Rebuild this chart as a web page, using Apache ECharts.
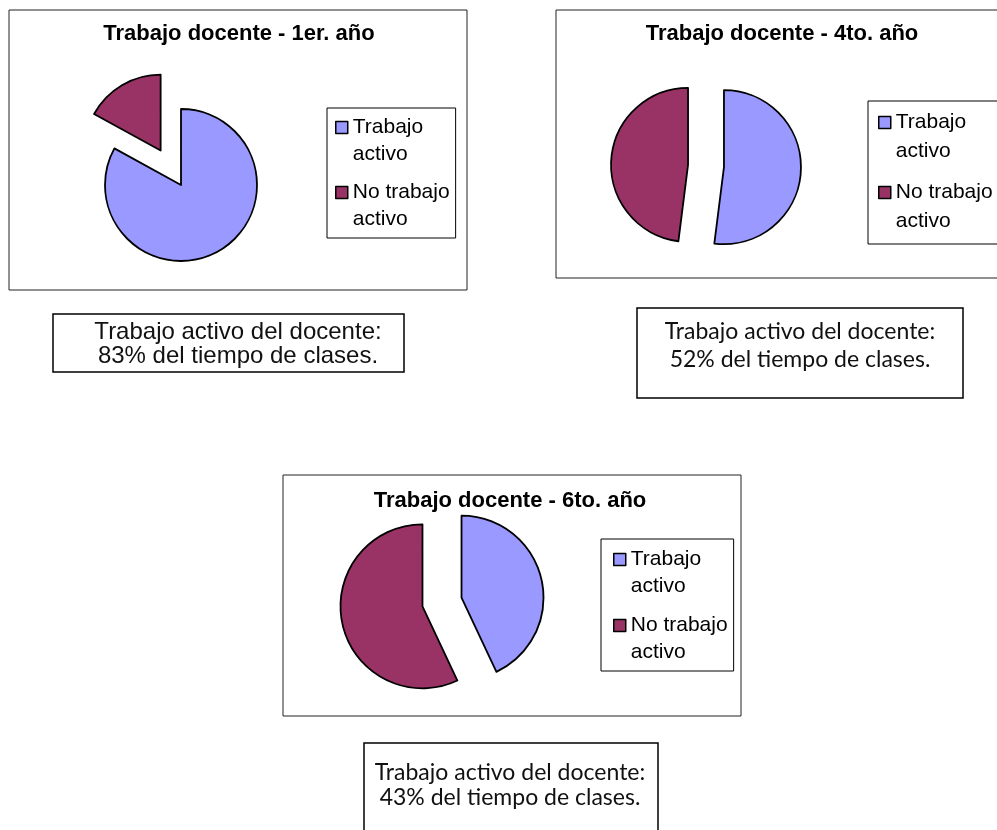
<!DOCTYPE html>
<html>
<head>
<meta charset="utf-8">
<title>Trabajo docente</title>
<script src="https://cdn.jsdelivr.net/npm/echarts@6/dist/echarts.min.js"></script>
<style>
  html, body { margin: 0; padding: 0; background: #fff; }
  #main { width: 997px; height: 830px; }
</style>
</head>
<body>
<div id="main"></div>
<script>
// datos de los tres graficos
var sliceNames = ['Trabajo activo', 'No trabajo activo'];
var chartTitles = ['Trabajo docente - 1er. año', 'Trabajo docente - 4to. año', 'Trabajo docente - 6to. año'];
var values1 = [83, 17];
var values4 = [52, 48];
var values6 = [43, 57];
var notes1 = ['Trabajo activo del docente:', '83% del tiempo de clases.'];
var notes4 = ['Trabajo activo del docente:', '52% del tiempo de clases.'];
var notes6 = ['Trabajo activo del docente:', '43% del tiempo de clases.'];

var arial = '"Liberation Sans", Arial, sans-serif';
var gothic = 'Lato, "Open Sans", sans-serif';

function pieData(values, exploded) {
  return values.map(function (v, i) {
    return { name: sliceNames[i], value: v, selected: exploded[i] };
  });
}

function pieSeries(center, r, offset, data) {
  return {
    type: 'pie',
    center: center,
    radius: r,
    startAngle: 90,
    clockwise: true,
    selectedMode: 'multiple',
    selectedOffset: offset,
    avoidLabelOverlap: false,
    animation: false,
    silent: true,
    label: { show: false },
    labelLine: { show: false },
    itemStyle: { borderColor: '#000', borderWidth: 1.8 },
    data: data
  };
}

// el icono lleva un punto extra abajo para que el cuadrado quede en la primera linea
function legendBox(left, top, lineH, gap, padding) {
  return {
    left: left,
    top: top,
    orient: 'vertical',
    data: sliceNames,
    icon: 'path://M0,0h12v12h-12zM0,' + (lineH + 12),
    itemWidth: 12,
    itemHeight: lineH + 12,
    itemGap: gap,
    selectedMode: false,
    backgroundColor: '#fff',
    borderColor: '#000',
    borderWidth: 1,
    borderRadius: 0,
    padding: padding,
    itemStyle: { borderColor: '#000', borderWidth: 1.5 },
    textStyle: { fontFamily: arial, fontSize: 21, lineHeight: lineH, color: '#000' },
    formatter: function (n) {
      var k = n.lastIndexOf(' ');
      return n.slice(0, k) + '\n' + n.slice(k + 1);
    }
  };
}

function titleAt(text, x, y) {
  return {
    text: text,
    left: x,
    top: y,
    textAlign: 'center',
    padding: 0,
    textStyle: { fontFamily: arial, fontSize: 22, fontWeight: 'bold', color: '#000' }
  };
}

function frame(x, y, w, h) {
  return {
    type: 'rect', z: 0,
    shape: { x: x, y: y, width: w, height: h },
    style: { fill: 'none', stroke: '#222', lineWidth: 1 }
  };
}

function noteBox(x, y, w, h, tx, ty, lines, family, size, lineH) {
  return {
    type: 'group',
    children: [
      { type: 'rect', shape: { x: x, y: y, width: w, height: h },
        style: { fill: '#fff', stroke: '#000', lineWidth: 1.5 } },
      { type: 'text',
        style: { text: lines.join('\n'), x: tx, y: ty, align: 'center', verticalAlign: 'middle',
                 fontFamily: family, fontSize: size, lineHeight: lineH, fill: '#111' } }
    ]
  };
}

var chart = echarts.init(document.getElementById('main'));
var option = {
  backgroundColor: '#fff',
  color: ['#9999FF', '#993366'],
  title: [
    titleAt(chartTitles[0], 239, 23),
    titleAt(chartTitles[1], 782, 23),
    titleAt(chartTitles[2], 510, 490)
  ],
  legend: [
    legendBox(327, 108, 27, 11, [6, 6, 5, 8]),
    legendBox(868, 101, 29, 12, [7, 30, 8, 10]),
    legendBox(601, 539, 27, 12, [7, 6, 5, 12])
  ],
  graphic: [
    frame(9, 10, 458, 280),
    frame(556, 10, 460, 268),
    frame(283, 475, 458, 241),
    noteBox(53, 314, 351, 58, 238, 344, notes1, arial, 24, 24),
    noteBox(637, 308, 326, 90, 800, 346, notes4, gothic, 23, 28),
    noteBox(364, 743, 294, 100, 510, 785, notes6, gothic, 23, 25)
  ],
  series: [
    pieSeries([181, 185], 76, 40, pieData(values1, [false, true])),
    pieSeries([706, 166], 77, 18, pieData(values4, [true, true])),
    pieSeries([442, 602], 82, 20, pieData(values6, [true, true]))
  ]
};
chart.setOption(option);
</script>
</body>
</html>
